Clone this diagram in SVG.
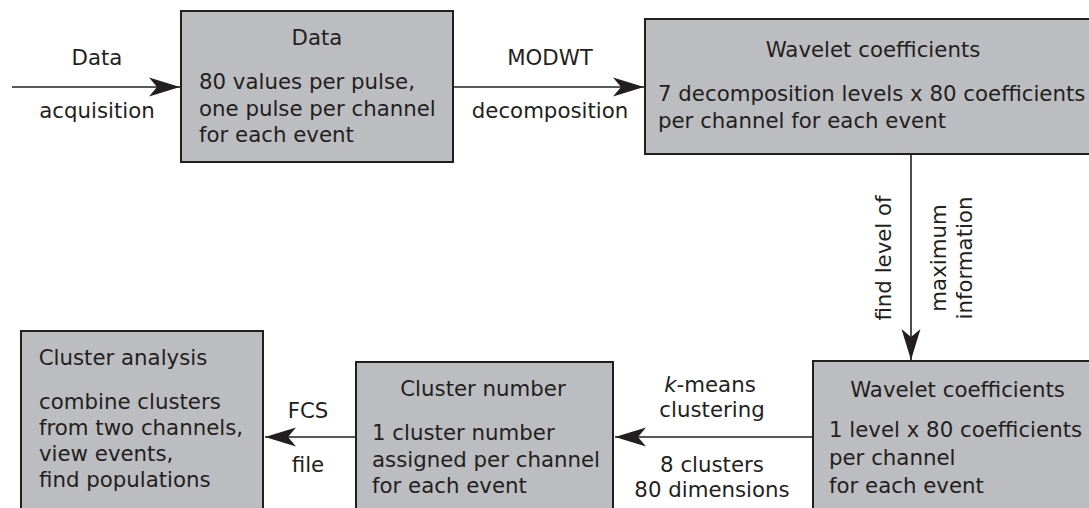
<svg xmlns="http://www.w3.org/2000/svg" width="1089" height="508" viewBox="0 0 1089 508">
<style>
  .box { fill: #bcbdc0; stroke: #231f20; stroke-width: 2; }
  .t { font-family: "DejaVu Sans", Verdana, sans-serif; font-size: 21.3px; fill: #231f20; }
  .c { text-anchor: middle; }
  .conn { stroke: #231f20; stroke-width: 1.6; fill: none; marker-end: url(#ah); }
</style>
<defs>
  <marker id="ah" markerUnits="userSpaceOnUse" markerWidth="40" markerHeight="24" viewBox="-32 -12 34 24" refX="0" refY="0" orient="auto">
    <path d="M0,0 L-31,-9.5 L-23,0 L-31,9.5 Z" fill="#231f20"/>
  </marker>
</defs>
<rect width="1089" height="508" fill="#ffffff"/>

<g id="connectors">
  <line class="conn" x1="12" y1="87" x2="180" y2="87"/>
  <line class="conn" x1="453" y1="87" x2="644" y2="87"/>
  <line class="conn" x1="911" y1="154" x2="911" y2="360"/>
  <line class="conn" x1="813" y1="437" x2="615" y2="437"/>
  <line class="conn" x1="356" y1="437" x2="265" y2="437"/>
  <text class="t c" x="97" y="65">Data</text>
  <text class="t c" x="97" y="118">acquisition</text>
  <text class="t c" x="550" y="65">MODWT</text>
  <text class="t c" x="550" y="118">decomposition</text>
  <text class="t c" transform="translate(891,258) rotate(-90)">find level of</text>
  <text class="t c" transform="translate(946,258) rotate(-90)">maximum</text>
  <text class="t c" transform="translate(972,258) rotate(-90)">information</text>
  <text class="t c" x="710" y="392"><tspan font-style="italic">k</tspan>-means</text>
  <text class="t c" x="712" y="417">clustering</text>
  <text class="t c" x="712" y="472">8 clusters</text>
  <text class="t c" x="712" y="497">80 dimensions</text>
  <text class="t c" x="308" y="418">FCS</text>
  <text class="t c" x="308" y="472">file</text>
</g>

<g id="node-data">
  <rect class="box" x="181" y="11" width="272" height="151"/>
  <text class="t c" x="317" y="45">Data</text>
  <text class="t" x="199" y="89">80 values per pulse,</text>
  <text class="t" x="199" y="115.5">one pulse per channel</text>
  <text class="t" x="199" y="141.5">for each event</text>
</g>

<g id="node-wavelet-all">
  <rect class="box" x="645" y="19" width="460" height="135"/>
  <text class="t c" x="873" y="57">Wavelet coefficients</text>
  <text class="t" x="658" y="101">7 decomposition levels x 80 coefficients</text>
  <text class="t" x="658" y="128">per channel for each event</text>
</g>

<g id="node-wavelet-one">
  <rect class="box" x="813" y="361" width="290" height="160"/>
  <text class="t c" x="957.5" y="397">Wavelet coefficients</text>
  <text class="t" x="829" y="437">1 level x 80 coefficients</text>
  <text class="t" x="829" y="465">per channel</text>
  <text class="t" x="829" y="493">for each event</text>
</g>

<g id="node-cluster-number">
  <rect class="box" x="356" y="362" width="257" height="160"/>
  <text class="t c" x="483" y="396">Cluster number</text>
  <text class="t" x="372" y="439.5">1 cluster number</text>
  <text class="t" x="372" y="466.5">assigned per channel</text>
  <text class="t" x="372" y="493">for each event</text>
</g>

<g id="node-cluster-analysis">
  <rect class="box" x="21" y="331" width="242" height="190"/>
  <text class="t c" x="123" y="365">Cluster analysis</text>
  <text class="t" x="39" y="408.5">combine clusters</text>
  <text class="t" x="39" y="435">from two channels,</text>
  <text class="t" x="39" y="460.5">view events,</text>
  <text class="t" x="39" y="487">find populations</text>
</g>
</svg>
